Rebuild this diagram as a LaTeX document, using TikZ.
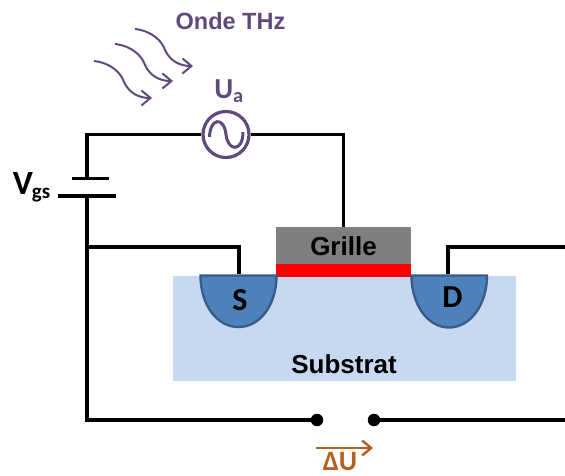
\documentclass[tikz,border=0pt]{standalone}
\usepackage{fontspec}
\setmainfont{Liberation Sans}
\newfontfamily\calibri{Carlito}
\usetikzlibrary{arrows.meta}
\definecolor{ondecol}{HTML}{604A7B}
\definecolor{ducol}{HTML}{B5601E}
\definecolor{subcol}{HTML}{C6D9F1}
\definecolor{wellcol}{HTML}{4F81BD}
\definecolor{welledge}{HTML}{385D8A}
\definecolor{grillecol}{HTML}{7F7F7F}
\tikzset{
	wire/.style={line width=3.6pt,black},
	plate/.style={line width=3.8pt,black},
	wave/.style={line width=2pt,ondecol,-{Straight Barb[length=9pt,width=15pt]}},
	block/.style={inner sep=0pt,outer sep=0pt},
	well/.style={line width=2.4pt,draw=welledge,fill=wellcol},
	txt/.style={inner sep=0pt,font=\bfseries\fontsize{#1}{#1}\selectfont},
	cal/.style={inner sep=0pt,font=\calibri\bfseries\fontsize{#1}{#1}\selectfont},
	dot/.style={circle,fill=black,inner sep=0pt,minimum size=12.5pt},
}
\begin{document}
\begin{tikzpicture}[x=1pt,y=-1pt]
	\useasboundingbox (0,0) rectangle (565,476);
	\node[block,fill=subcol,minimum width=343pt,minimum height=105pt] (substrat) at (344.5,328.5) {};
	\node[txt=26] (substrattxt) at (344,364) {Substrat};
	\node[block,fill=grillecol,minimum width=135pt,minimum height=37pt] (grille) at (343.5,245.5) {};
	\node[txt=26] (grilletxt) at (343.5,246) {Grille};
	\node[block,fill=red,minimum width=135pt,minimum height=12.5pt] (canal) at (343.5,270.3) {};

	\draw[well] (200.5,275.5) -- (276.5,275.5) .. controls (276.5,305) and (260,327) .. (238.5,327) .. controls (217,327) and (200.5,305) .. (200.5,275.5) -- cycle;
	\draw[well] (411.5,275.5) -- (487,275.5) .. controls (487,305) and (470,327.5) .. (449,327.5) .. controls (428,327.5) and (411.5,305) .. (411.5,275.5) -- cycle;
	\node[cal=32] (S) at (240,300.5) {S};
	\node[cal=32] (D) at (452.5,297) {D};

	\coordinate (hg) at (87,134.5);
	\coordinate (platehaut) at (87,178.5);
	\coordinate (platebas) at (87,196);
	\coordinate (noeud) at (87,247);
	\coordinate (bg) at (87,420);
	\coordinate (sourcepin) at (239,274);
	\coordinate (drainpin) at (448,274);
	\coordinate (drainfin) at (565,247);
	\coordinate (dufin) at (565,420);

	\node[circle,draw=ondecol,line width=3.2pt,minimum size=46pt,inner sep=0pt] (ua) at (226,134.5) {};
	\draw[line width=3pt,ondecol] (209.5,137) .. controls (210,118) and (224,116) .. (226,134.5) .. controls (228,152) and (243,152) .. (243,132);

	\draw[wire] (ua.west) -- (hg) -- (platehaut);
	\draw[wire] (ua.east) -| (grille.north);
	\draw[wire] (noeud) -| (sourcepin);
	\draw[wire] (drainpin) |- (drainfin);

	\draw[plate] (72,178.5) -- (109,178.5);
	\draw[plate] (58,196) -- (116,196);

	\node[dot] (dota) at (317,420) {};
	\node[dot] (dotb) at (374,420) {};
	\draw[wire] (platebas) -- (bg) -- (dota);
	\draw[wire] (dotb) -- (dufin);

	\foreach \dx/\dy in {0/0,-20/15,-41/32}{
		\draw[wave,shift={(\dx,\dy)}] (135,29) .. controls (152,31) and (162,41) .. (165,50) .. controls (170,61) and (180,66) .. (193,66);
	}

	\node[txt=23.5,text=ondecol] (onde) at (230.5,21) {Onde THz};
	\node[cal=29,text=ondecol] (ulabel) at (229,91) {U\textsubscript{a}};
	\node[cal=34] (vlabel) at (23,183) {V};
	\node[cal=21] (gslabel) at (41,195) {gs};

	\draw[line width=2.4pt,ducol,-{Straight Barb[length=9pt,width=15pt]}] (316,448) -- (373,448);
	\node[cal=28,text=ducol] (du) at (340,462) {ΔU};
\end{tikzpicture}
\end{document}
